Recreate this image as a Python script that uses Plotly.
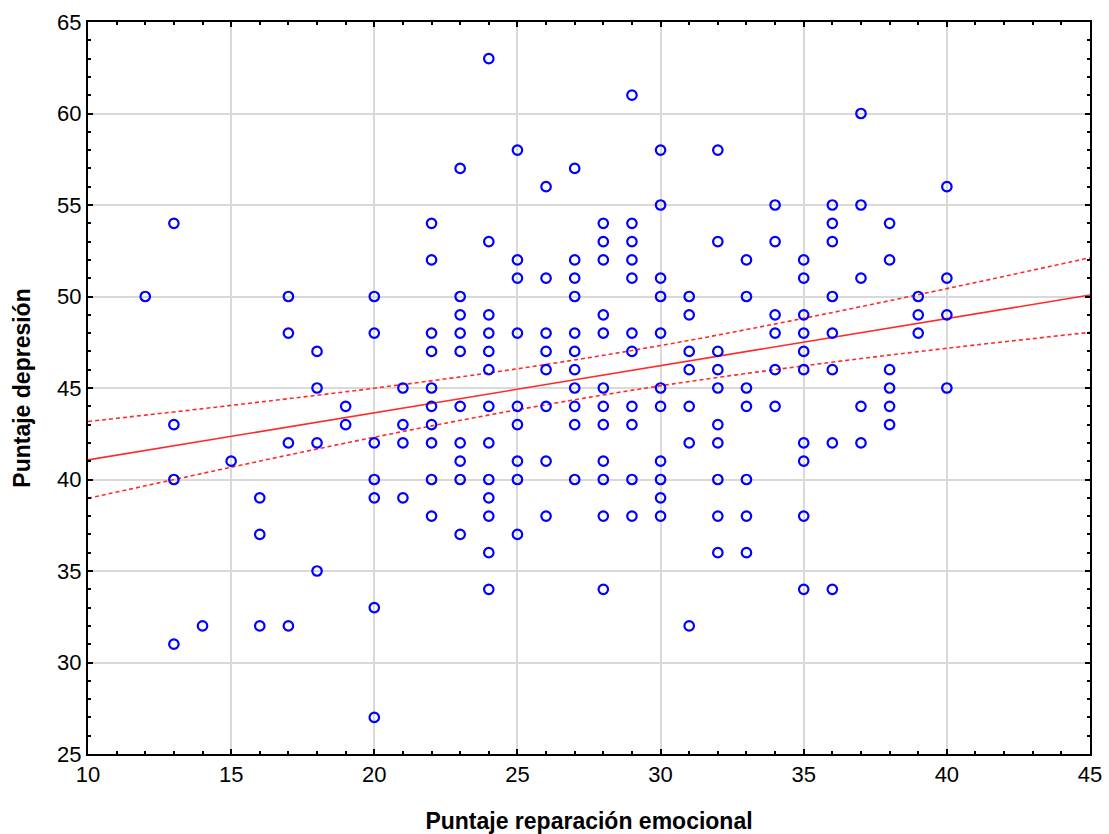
import plotly.graph_objects as go

# Scatter data: x = Puntaje reparación emocional, y = Puntaje depresión
columns = {
    12: [50],
    13: [54, 43, 40, 31],
    14: [32],
    15: [41],
    16: [39, 37, 32],
    17: [50, 48, 42, 32],
    18: [47, 45, 42, 35],
    19: [44, 43],
    20: [50, 48, 42, 40, 39, 33, 27],
    21: [45, 43, 42, 39],
    22: [54, 52, 48, 47, 45, 44, 43, 42, 40, 38],
    23: [57, 50, 49, 48, 47, 44, 42, 41, 40, 37],
    24: [63, 53, 49, 48, 47, 46, 44, 42, 40, 39, 38, 36, 34],
    25: [58, 52, 51, 48, 44, 43, 41, 40, 37],
    26: [56, 51, 48, 47, 46, 44, 41, 38],
    27: [57, 52, 51, 50, 48, 47, 46, 45, 44, 43, 40],
    28: [54, 53, 52, 49, 48, 45, 44, 43, 41, 40, 38, 34],
    29: [61, 54, 53, 52, 51, 48, 47, 44, 43, 40, 38],
    30: [58, 55, 51, 50, 48, 45, 44, 41, 40, 39, 38],
    31: [50, 49, 47, 46, 44, 42, 32],
    32: [58, 53, 47, 46, 45, 43, 42, 40, 38, 36],
    33: [52, 50, 45, 44, 40, 38, 36],
    34: [55, 53, 49, 48, 46, 44],
    35: [52, 51, 49, 48, 47, 46, 42, 41, 38, 34],
    36: [55, 54, 53, 50, 48, 46, 42, 34],
    37: [60, 55, 51, 44, 42],
    38: [54, 52, 46, 45, 44, 43],
    39: [50, 49, 48],
    40: [56, 51, 49, 45],
}
x_vals = [x for x, ys in columns.items() for _ in ys]
y_vals = [y for ys in columns.values() for y in ys]

# Regression line and 95% confidence band
fit_x = [10, 15, 20, 25, 30, 35, 40, 45]
fit_y = [41.07, 42.36, 43.65, 44.93, 46.22, 47.51, 48.80, 50.08]
upper_y = [43.17, 44.05, 44.99, 46.05, 47.32, 48.81, 50.43, 52.12]
lower_y = [38.97, 40.67, 42.31, 43.81, 45.12, 46.21, 47.17, 48.04]

x_ticks = [10, 15, 20, 25, 30, 35, 40, 45]
y_ticks = [25, 30, 35, 40, 45, 50, 55, 60, 65]

FONT = "Liberation Sans, Arial, sans-serif"

fig = go.Figure()
red = "#ff2a2a"
fig.add_trace(go.Scatter(x=fit_x, y=upper_y, mode="lines", line_shape="spline",
                         line=dict(color=red, width=1.6, dash="4px,3px"), hoverinfo="skip"))
fig.add_trace(go.Scatter(x=fit_x, y=lower_y, mode="lines", line_shape="spline",
                         line=dict(color=red, width=1.6, dash="4px,3px"), hoverinfo="skip"))
fig.add_trace(go.Scatter(x=fit_x, y=fit_y, mode="lines",
                         line=dict(color=red, width=1.6), hoverinfo="skip"))
fig.add_trace(go.Scatter(x=x_vals, y=y_vals, mode="markers", cliponaxis=False,
                         marker=dict(symbol="circle-open", size=9.5, color="#0000ff",
                                     line=dict(width=2.2, color="#0000ff"))))

axis_common = dict(
    showgrid=True, gridcolor="#d9d9d9", gridwidth=1.5,
    showline=True, linecolor="black", linewidth=2, mirror="ticks",
    ticks="inside", ticklen=5, tickwidth=1.5, tickcolor="black",
    zeroline=False, automargin=False,
    tickfont=dict(family=FONT, size=22, color="black"),
)

fig.update_xaxes(range=[10, 45], tickvals=x_ticks,
                 minor=dict(dtick=1, ticks="inside", ticklen=3, tickcolor="black", showgrid=False),
                 title=dict(text="<b>Puntaje reparación emocional</b>",
                            font=dict(family=FONT, size=23, color="black"),
                            standoff=26),
                 **axis_common)
fig.update_yaxes(range=[25, 65], tickvals=y_ticks,
                 minor=dict(dtick=1, ticks="inside", ticklen=3, tickcolor="black", showgrid=False),
                 title=dict(text="<b>Puntaje depresión</b>",
                            font=dict(family=FONT, size=23, color="black"),
                            standoff=20),
                 **axis_common)

fig.update_layout(
    width=1109, height=834,
    margin=dict(l=88, r=19, t=22, b=80),
    plot_bgcolor="white", paper_bgcolor="white",
    showlegend=False,
)

fig.write_html("out.html", config={"displayModeBar": False},
               post_script="document.body.style.margin='0';")
